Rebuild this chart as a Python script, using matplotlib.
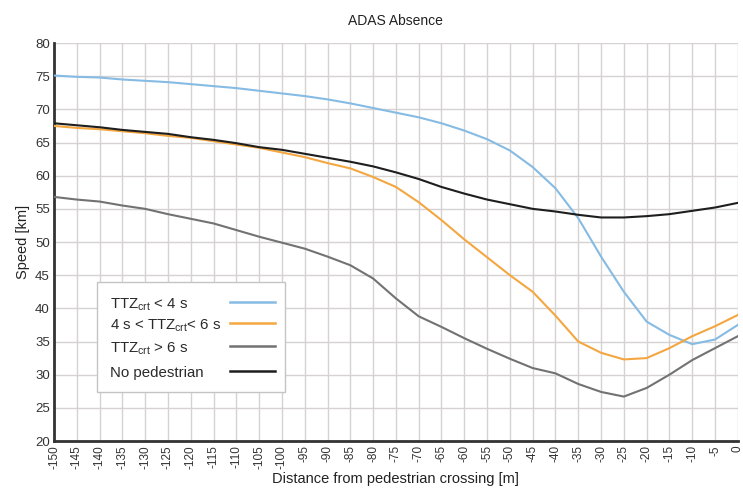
import matplotlib
matplotlib.use("Agg")
import matplotlib.pyplot as plt
from matplotlib.patches import Rectangle
from matplotlib.lines import Line2D

plt.rcParams['font.family'] = ['Liberation Sans', 'DejaVu Sans']

distance = list(range(-150, 1, 5))

ttz_lt4 = [75.1, 74.9, 74.8, 74.5, 74.3, 74.1, 73.8, 73.5, 73.2, 72.8, 72.4, 72.0,
           71.5, 70.9, 70.2, 69.5, 68.8, 67.9, 66.8, 65.5, 63.8, 61.3, 58.1, 53.6,
           47.8, 42.5, 38.0, 36.0, 34.6, 35.3, 37.5]
ttz_4_6 = [67.5, 67.2, 67.0, 66.7, 66.4, 66.0, 65.7, 65.2, 64.7, 64.2, 63.5, 62.8,
           61.9, 61.1, 59.8, 58.3, 56.0, 53.3, 50.4, 47.7, 45.0, 42.5, 38.9, 35.0,
           33.3, 32.3, 32.5, 34.0, 35.8, 37.3, 39.0]
ttz_gt6 = [56.8, 56.4, 56.1, 55.5, 55.0, 54.2, 53.5, 52.8, 51.8, 50.8, 49.9, 49.0,
           47.8, 46.5, 44.5, 41.5, 38.8, 37.2, 35.5, 33.9, 32.4, 31.0, 30.2, 28.6,
           27.4, 26.7, 28.0, 30.0, 32.2, 34.0, 35.8]
no_ped = [67.9, 67.6, 67.3, 66.9, 66.6, 66.3, 65.8, 65.4, 64.9, 64.3, 63.9, 63.3,
          62.7, 62.1, 61.4, 60.5, 59.5, 58.3, 57.3, 56.4, 55.7, 55.0, 54.6, 54.1,
          53.7, 53.7, 53.9, 54.2, 54.7, 55.2, 55.9]

labels = [r"TTZ$_{\mathregular{crt}}$ < 4 s",
          r"4 s < TTZ$_{\mathregular{crt}}$< 6 s",
          r"TTZ$_{\mathregular{crt}}$ > 6 s",
          "No pedestrian"]
colors = ["#86bbe3", "#f4a640", "#727272", "#1e1e1e"]

fig = plt.figure(figsize=(7.43, 4.91), dpi=100)
ax = fig.add_axes([0.0727, 0.1018, 0.9203, 0.8106])

for y, lab, c in zip([ttz_lt4, ttz_4_6, ttz_gt6, no_ped], labels, colors):
    ax.plot(distance, y, color=c, lw=1.5, label=lab, zorder=3)

ax.set_xlim(-150, 0)
ax.set_ylim(20, 80)
ax.set_xticks(distance)
ax.set_xticklabels([str(d) for d in distance], rotation=90, fontsize=8.5, color="#333333")
ax.set_yticks(range(20, 81, 5))
ax.tick_params(axis='y', labelsize=9.5, labelcolor="#333333", length=0, pad=3)
ax.tick_params(axis='x', length=0, pad=3)
ax.grid(True, color="#d6d2d2", lw=1.0, zorder=0)
for s in ['top', 'right']:
    ax.spines[s].set_visible(False)
for s in ['left', 'bottom']:
    ax.spines[s].set_color("#333333")
    ax.spines[s].set_linewidth(2.0)

ax.set_title("ADAS Absence", fontsize=10, color="#222222", pad=13)
ax.set_xlabel("Distance from pedestrian crossing [m]", fontsize=10.5, color="#222222", labelpad=2)
ax.set_ylabel("Speed [km]", fontsize=10.5, color="#222222", labelpad=4)

# legend (text left, line sample right), built in axes coordinates
box = Rectangle((0.0628, 0.1240), 0.2755, 0.2755, transform=ax.transAxes,
                facecolor="white", edgecolor="#c4c4c4", lw=1.0, zorder=5)
ax.add_patch(box)
row_y = [0.350, 0.297, 0.239, 0.176]
for yy, lab, c in zip(row_y, labels, colors):
    ax.text(0.0825, yy - 0.0155, lab, transform=ax.transAxes, fontsize=10.8,
            color="#2a2a2a", va='baseline', ha='left', zorder=6)
    ax.add_line(Line2D([0.2573, 0.3231], [yy, yy], transform=ax.transAxes,
                       color=c, lw=1.8, zorder=6))

fig.savefig("out.png", dpi=100)
